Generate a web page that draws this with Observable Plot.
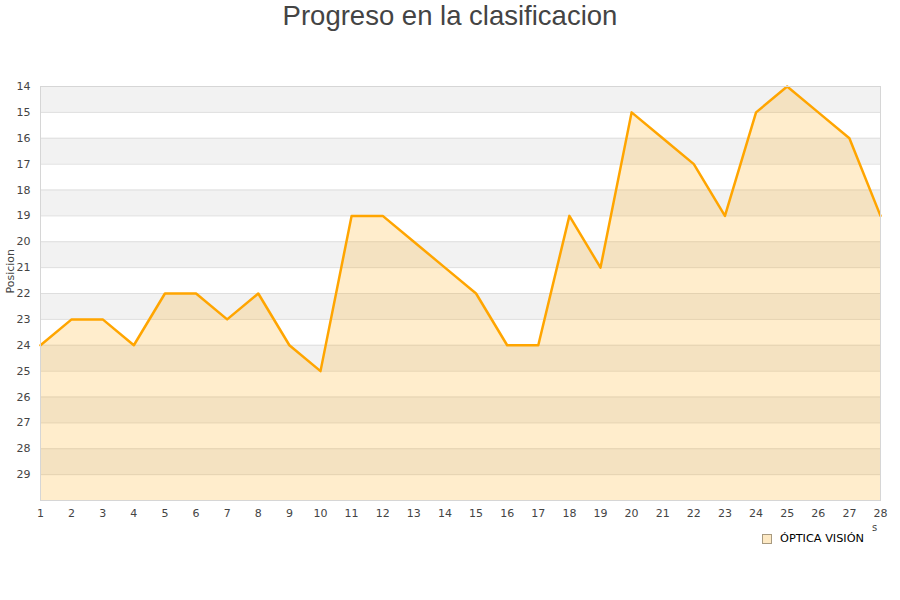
<!DOCTYPE html>
<html>
<head>
<meta charset="utf-8">
<script src="https://cdn.jsdelivr.net/npm/d3@7"></script>
<script src="https://cdn.jsdelivr.net/npm/@observablehq/plot@0.6"></script>
<style>
  body { margin: 0; background: #fff; }
  #wrap { position: relative; width: 900px; height: 600px; overflow: hidden; }
  #title { position: absolute; left: 0; top: 0; width: 900px; text-align: center;
           font-family: "Liberation Sans", Arial, sans-serif; font-size: 27.5px; color: #444; line-height: 32px; }
  #legend { position: absolute; left: 762px; top: 532px; font-family: "DejaVu Sans", sans-serif;
            font-size: 11.3px; color: #000; display: flex; align-items: center; }
  #legend .sw { width: 8px; height: 8px; background: #fde9c4; border: 1px solid #a89a80; margin-right: 8px; }
  #stray { position: absolute; left: 872px; top: 522px; font-family: "DejaVu Sans", sans-serif; font-size: 10px; color: #444; }
</style>
</head>
<body>
<div id="wrap">
  <div id="title">Progreso en la clasificacion</div>
  <div id="chart"></div>
  <div id="legend"><div class="sw"></div><span>ÓPTICA VISIÓN</span></div>
  <div id="stray">s</div>
</div>
<script>
const jornadas = [1,2,3,4,5,6,7,8,9,10,11,12,13,14,15,16,17,18,19,20,21,22,23,24,25,26,27,28];
const posiciones = [24,23,23,24,22,22,23,22,24,25,19,19,20,21,22,24,24,19,21,15,16,17,19,15,14,15,16,19];
const yTicks = [14,15,16,17,18,19,20,21,22,23,24,25,26,27,28,29];
const bandStarts = [14,16,18,20,22,24,26,28];
const yMin = 14, yMax = 30;
const serie = "ÓPTICA VISIÓN";

const data = jornadas.map((j, i) => ({jornada: j, pos: posiciones[i]}));
const bands = bandStarts.map(b => ({y1: b, y2: b + 1}));

const chart = Plot.plot({
  width: 900,
  height: 600,
  marginTop: 86,
  marginBottom: 100,
  marginLeft: 40,
  marginRight: 20,
  style: { fontFamily: "DejaVu Sans, sans-serif", fontSize: "11px", color: "#444", background: "transparent" },
  x: { domain: [1, 28], ticks: jornadas, tickFormat: d => String(d), tickSize: 0, tickPadding: 9, label: null },
  y: { domain: [yMin, yMax], reverse: true, ticks: yTicks, tickFormat: d => String(d), tickSize: 0, tickPadding: 10, label: null },
  marks: [
    Plot.rect(bands, { x1: 1, x2: 28, y1: "y1", y2: "y2", fill: "#f2f2f2" }),
    Plot.ruleY(yTicks.slice(1).concat([yMax]), { stroke: "#dedede", strokeWidth: 1 }),
    Plot.areaY(data, { x: "jornada", y1: yMax, y2: "pos", fill: "orange", fillOpacity: 0.2 }),
    Plot.lineY(data, { x: "jornada", y: "pos", stroke: "#ffa500", strokeWidth: 2.5 }),
    Plot.frame({ stroke: "#d6d6d6", strokeWidth: 1 }),
    Plot.text(["Posicion"], { frameAnchor: "left", dx: -30, rotate: -90, text: d => d, fontSize: 11, fill: "#444" })
  ]
});
document.getElementById("chart").appendChild(chart);
</script>
</body>
</html>
